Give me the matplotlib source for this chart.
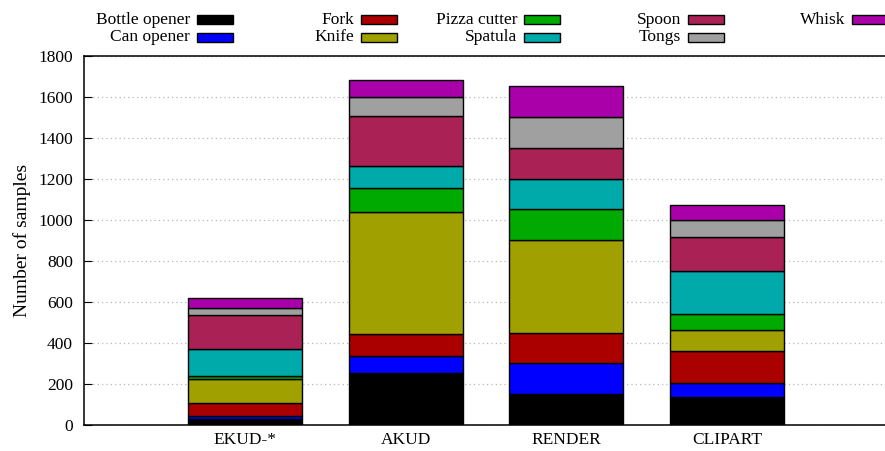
import numpy as np
import matplotlib.pyplot as plt
from matplotlib.patches import Rectangle

#%% Datos
categorias = ['EKUD-*', 'AKUD', 'RENDER', 'CLIPART']
clases = ['Bottle opener', 'Can opener', 'Fork', 'Knife', 'Pizza cutter',
          'Spatula', 'Spoon', 'Tongs', 'Whisk']

bottle_opener = [31, 252, 152, 135]
can_opener    = [14, 85, 149, 72]
fork          = [62, 105, 148, 152]
knife         = [116, 598, 452, 103]
pizza_cutter  = [14, 115, 151, 78]
spatula       = [136, 108, 150, 213]
spoon         = [164, 244, 149, 166]
tongs         = [36, 93, 151, 79]
whisk         = [48, 83, 153, 75]

series = [bottle_opener, can_opener, fork, knife, pizza_cutter,
          spatula, spoon, tongs, whisk]
colores = ['#000000', '#0000ff', '#aa0000', '#a0a000', '#00aa00',
           '#00aaaa', '#aa2255', '#a0a0a0', '#aa00aa']

#%% Grafico
plt.rcParams['font.family'] = ['Liberation Serif', 'DejaVu Serif']

W, H = 885, 451
fs = 12.5
fig = plt.figure(figsize=(W/100, H/100), dpi=100)
ax = fig.add_axes([84/W, (H-425)/H, (888-84)/W, (425-56)/H])

x = np.arange(len(categorias))
base = np.zeros(len(categorias))
for vals, c in zip(series, colores):
    ax.bar(x, vals, 0.71, bottom=base, color=c, edgecolor='black',
           linewidth=1, zorder=3)
    base += np.array(vals)

ax.set_xlim(-1, 4)
ax.set_ylim(0, 1800)
ax.set_yticks(np.arange(0, 1801, 200))
ax.set_xticks(x)
ax.set_xticklabels(categorias)
ax.tick_params(axis='x', length=0, pad=5, labelsize=fs)
ax.tick_params(axis='y', direction='in', length=6, pad=8, labelsize=fs)
ax.yaxis.grid(True, linestyle=(0, (1, 2.5)), color='#b8b8b8', linewidth=0.9, zorder=0)
ax.spines['right'].set_visible(False)
for s in ['left', 'top', 'bottom']:
    ax.spines[s].set_linewidth(1.1)
ax.set_ylabel('Number of samples', fontsize=14, labelpad=5)

# Leyenda a mano (estilo gnuplot: texto alineado a la derecha, luego la muestra)
sw_x = [197, 361, 524, 688, 852]
fila_y = [19.5, 37]
for i, (nombre, c) in enumerate(zip(clases, colores)):
    col, fila = i // 2, i % 2
    xs, yc = sw_x[col], fila_y[fila]
    fig.text((xs - 7)/W, 1 - yc/H, nombre, ha='right', va='center', fontsize=fs)
    fig.patches.append(Rectangle((xs/W, 1 - (yc + 4.5)/H), 36/W, 9/H,
                                 transform=fig.transFigure, facecolor=c,
                                 edgecolor='black', linewidth=1))

fig.savefig('out.png', dpi=100)
